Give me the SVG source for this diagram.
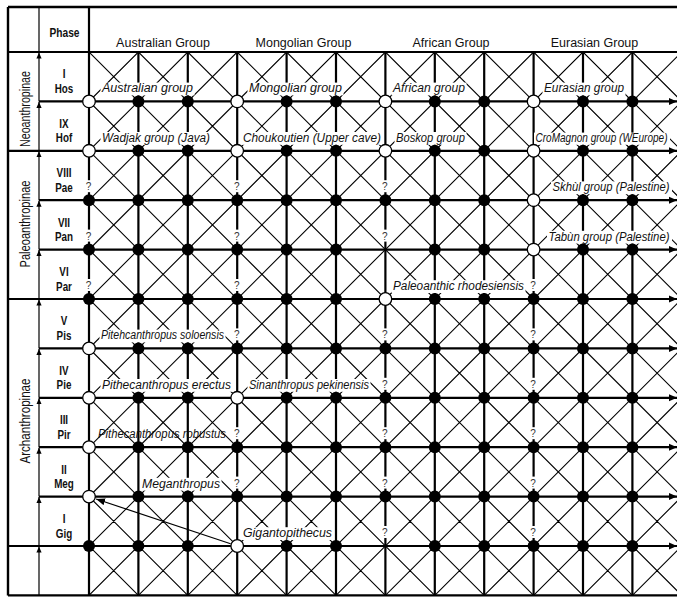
<svg xmlns="http://www.w3.org/2000/svg" width="677" height="597" viewBox="0 0 677 597">
<defs>
<style>
.thk{stroke:#000;stroke-width:2.2;fill:none}
.frm{stroke:#000;stroke-width:2.4;fill:none}
.thn{stroke:#000;stroke-width:1.2;fill:none}
.dg{stroke:#000;stroke-width:1.1;fill:none}
.f{fill:#000}
.o{fill:#fff;stroke:#000;stroke-width:1.3}
.bg{fill:#fff}
.lab{font-family:"Liberation Sans",Arial,sans-serif;font-style:italic;font-size:12px;fill:#111}
.q text{font-family:"Liberation Sans",Arial,sans-serif;font-size:10px;fill:#333;text-anchor:middle}
.hd{font-family:"Liberation Sans",Arial,sans-serif;font-size:12.5px;fill:#111;text-anchor:middle}
.ph{font-family:"Liberation Sans",Arial,sans-serif;font-weight:bold;font-size:12px;fill:#111;text-anchor:middle}
.grp{font-family:"Liberation Sans",Arial,sans-serif;font-size:14px;fill:#111;text-anchor:middle}
</style>
<marker id="ar" markerUnits="userSpaceOnUse" markerWidth="9" markerHeight="8" refX="8" refY="4" orient="auto"><path d="M0,0.5 L8,4 L0,7.5 z" fill="#000"/></marker>
<marker id="au" markerUnits="userSpaceOnUse" markerWidth="7" markerHeight="6" refX="6" refY="2.6" orient="auto"><path d="M0,0 L6,2.6 L0,5.2 z" fill="#000"/></marker>
<marker id="ah" markerUnits="userSpaceOnUse" markerWidth="10" markerHeight="8" refX="9" refY="3.5" orient="auto"><path d="M0,0 L9,3.5 L0,7 z" fill="#000"/></marker>
<clipPath id="gc"><rect x="89" y="52" width="588" height="543.4"/></clipPath>
</defs>
<rect width="677" height="597" fill="#fff"/>

<g id="connectors">
<path class="dg" clip-path="url(#gc)" d="M-454.4,52l543.4,543.4M-405,52l543.4,543.4M-355.6,52l543.4,543.4M-306.2,52l543.4,543.4M-256.8,52l543.4,543.4M-207.4,52l543.4,543.4M-158,52l543.4,543.4M-108.6,52l543.4,543.4M-59.2,52l543.4,543.4M-9.8,52l543.4,543.4M39.6,52l543.4,543.4M89,52l543.4,543.4M138.4,52l543.4,543.4M187.8,52l543.4,543.4M237.2,52l543.4,543.4M286.6,52l543.4,543.4M336,52l543.4,543.4M385.4,52l543.4,543.4M434.8,52l543.4,543.4M484.2,52l543.4,543.4M533.6,52l543.4,543.4M583,52l543.4,543.4M632.4,52l543.4,543.4M681.8,52l543.4,543.4
M89,52l-543.4,543.4M138.4,52l-543.4,543.4M187.8,52l-543.4,543.4M237.2,52l-543.4,543.4M286.6,52l-543.4,543.4M336,52l-543.4,543.4M385.4,52l-543.4,543.4M434.8,52l-543.4,543.4M484.2,52l-543.4,543.4M533.6,52l-543.4,543.4M583,52l-543.4,543.4M632.4,52l-543.4,543.4M681.8,52l-543.4,543.4M731.2,52l-543.4,543.4M780.6,52l-543.4,543.4M830,52l-543.4,543.4M879.4,52l-543.4,543.4M928.8,52l-543.4,543.4M978.2,52l-543.4,543.4M1027.6,52l-543.4,543.4M1077,52l-543.4,543.4M1126.4,52l-543.4,543.4M1175.8,52l-543.4,543.4M1225.2,52l-543.4,543.4"/>
<path class="thk" d="M138.4,52V595.4M187.8,52V595.4M237.2,52V595.4M286.6,52V595.4M336,52V595.4M385.4,52V595.4M434.8,52V595.4M484.2,52V595.4M533.6,52V595.4M583,52V595.4M632.4,52V595.4M89,7V595.4"/>
<path class="thk" d="M8,52H677"/>
<g class="thk" marker-end="url(#ar)">
<path d="M39,101.4H677"/><path d="M8,150.8H677"/><path d="M39,200.2H677"/><path d="M39,249.6H677"/><path d="M8,299H677"/><path d="M39,348.4H677"/><path d="M39,397.8H677"/><path d="M39,447.2H677"/><path d="M39,496.6H677"/><path d="M8,546H677"/>
</g>
<path class="thn" d="M39,7V52"/>
<g class="thn" marker-end="url(#au)">
<path d="M39,101.4V52.5"/><path d="M39,150.8V101.9"/><path d="M39,200.2V151.3"/><path d="M39,249.6V200.7"/><path d="M39,299V250.1"/><path d="M39,348.4V299.5"/><path d="M39,397.8V348.9"/><path d="M39,447.2V398.3"/><path d="M39,496.6V447.7"/><path d="M39,546V497.1"/><path d="M39,595.4V546.5"/>
</g>
<path class="frm" d="M8,7H677M8,7V595.4M8,595.4H677"/>
<path id="e-gig-meg" class="thn" d="M230.6,543.8L96.1,499" marker-end="url(#ah)"/>
</g>

<g id="header">
<text class="ph" transform="translate(64.5,0) scale(0.85,1)" y="37">Phase</text>
<text class="hd" x="163" y="47">Australian Group</text>
<text class="hd" x="303.5" y="47">Mongolian Group</text>
<text class="hd" x="451" y="47">African Group</text>
<text class="hd" x="594.5" y="47">Eurasian Group</text>
</g>

<g id="subfamilies">
<text class="grp" transform="translate(30,109) rotate(-90)" textLength="76" lengthAdjust="spacingAndGlyphs">Neoanthropinae</text>
<text class="grp" transform="translate(30,224) rotate(-90)" textLength="87" lengthAdjust="spacingAndGlyphs">Paleoanthropinae</text>
<text class="grp" transform="translate(30,421) rotate(-90)" textLength="85" lengthAdjust="spacingAndGlyphs">Archanthropinae</text>
</g>

<g id="phases" class="ph" transform="translate(64,0) scale(0.82,1)">
<text y="78.5">I</text><text y="93">Hos</text>
<text y="127.9">IX</text><text y="142.4">Hof</text>
<text y="177.3">VIII</text><text y="191.8">Pae</text>
<text y="226.7">VII</text><text y="241.2">Pan</text>
<text y="276.1">VI</text><text y="290.6">Par</text>
<text y="325.5">V</text><text y="340">Pis</text>
<text y="374.9">IV</text><text y="389.4">Pie</text>
<text y="424.3">III</text><text y="438.8">Pir</text>
<text y="473.7">II</text><text y="488.2">Meg</text>
<text y="523.1">I</text><text y="537.6">Gig</text>
</g>

<g id="labels">
<g id="l-australian"><rect class="bg" x="100.5" y="82.6" width="94" height="12.8"/><text class="lab" x="102" y="92.4" textLength="91" lengthAdjust="spacingAndGlyphs">Australian group</text></g>
<g id="l-mongolian"><rect class="bg" x="247.5" y="82.6" width="96" height="12.8"/><text class="lab" x="249" y="92.4" textLength="93" lengthAdjust="spacingAndGlyphs">Mongolian group</text></g>
<g id="l-african"><rect class="bg" x="391.5" y="82.6" width="75" height="12.8"/><text class="lab" x="393" y="92.4" textLength="72" lengthAdjust="spacingAndGlyphs">African group</text></g>
<g id="l-eurasian"><rect class="bg" x="542.5" y="82.6" width="83" height="12.8"/><text class="lab" x="544" y="92.4" textLength="80" lengthAdjust="spacingAndGlyphs">Eurasian group</text></g>
<g id="l-wadjak"><rect class="bg" x="100.5" y="132" width="111" height="12.8"/><text class="lab" x="102" y="141.8" textLength="108" lengthAdjust="spacingAndGlyphs">Wadjak group (Java)</text></g>
<g id="l-choukoutien"><rect class="bg" x="241.5" y="132" width="141" height="12.8"/><text class="lab" x="243" y="141.8" textLength="138" lengthAdjust="spacingAndGlyphs">Choukoutien (Upper cave)</text></g>
<g id="l-boskop"><rect class="bg" x="394.5" y="132" width="72" height="12.8"/><text class="lab" x="396" y="141.8" textLength="69" lengthAdjust="spacingAndGlyphs">Boskop group</text></g>
<g id="l-cromagnon"><rect class="bg" x="534" y="132.6" width="136" height="12.2"/><text class="lab" x="535.5" y="141.8" font-size="10.8" textLength="132" lengthAdjust="spacingAndGlyphs">CroMagnon group (WEurope)</text></g>
<g id="l-skhul"><rect class="bg" x="551" y="181.4" width="121" height="12.8"/><text class="lab" x="552.5" y="191.2" textLength="117" lengthAdjust="spacingAndGlyphs">Skhùl group (Palestine)</text></g>
<g id="l-tabun"><rect class="bg" x="547" y="230.8" width="125" height="12.8"/><text class="lab" x="548.5" y="240.6" textLength="121" lengthAdjust="spacingAndGlyphs">Tabùn group (Palestine)</text></g>
<g id="l-rhodesiensis"><rect class="bg" x="391.5" y="280.2" width="134" height="12.8"/><text class="lab" x="393" y="290" textLength="131" lengthAdjust="spacingAndGlyphs">Paleoanthic rhodesiensis</text></g>
<g id="l-soloensis"><rect class="bg" x="99.5" y="329.6" width="126" height="12.8"/><text class="lab" x="101" y="339.4" textLength="123" lengthAdjust="spacingAndGlyphs">Pitehcanthropus soloensis</text></g>
<g id="l-erectus"><rect class="bg" x="100.5" y="379" width="132" height="12.8"/><text class="lab" x="102" y="388.8" textLength="129" lengthAdjust="spacingAndGlyphs">Pithecanthropus erectus</text></g>
<g id="l-pekinensis"><rect class="bg" x="247.5" y="379" width="123" height="12.8"/><text class="lab" x="249" y="388.8" textLength="120" lengthAdjust="spacingAndGlyphs">Sinanthropus pekinensis</text></g>
<g id="l-robustus"><text class="lab" x="98" y="438.2" textLength="128" lengthAdjust="spacingAndGlyphs">Pithecanthropus robustus</text></g>
<g id="l-meganthropus"><rect class="bg" x="140.5" y="477.8" width="81" height="12.8"/><text class="lab" x="142" y="487.6" textLength="78" lengthAdjust="spacingAndGlyphs">Meganthropus</text></g>
<g id="l-gigantopithecus"><rect class="bg" x="241.5" y="527.2" width="92" height="12.8"/><text class="lab" x="243" y="537" textLength="89" lengthAdjust="spacingAndGlyphs">Gigantopithecus</text></g>
</g>

<g id="unknowns" class="q">
<rect class="bg" x="85" y="180.2" width="8" height="12"/><text x="88.5" y="190.2">?</text>
<rect class="bg" x="85" y="229.6" width="8" height="12"/><text x="88.5" y="239.6">?</text>
<rect class="bg" x="85" y="279" width="8" height="12"/><text x="88.5" y="289">?</text>
<rect class="bg" x="233.2" y="180.2" width="8" height="12"/><text x="236.7" y="190.2">?</text>
<rect class="bg" x="233.2" y="229.6" width="8" height="12"/><text x="236.7" y="239.6">?</text>
<rect class="bg" x="233.2" y="279" width="8" height="12"/><text x="236.7" y="289">?</text>
<rect class="bg" x="233.2" y="328.4" width="8" height="12"/><text x="236.7" y="338.4">?</text>
<rect class="bg" x="233.2" y="427.2" width="8" height="12"/><text x="236.7" y="437.2">?</text>
<rect class="bg" x="233.2" y="476.6" width="8" height="12"/><text x="236.7" y="486.6">?</text>
<rect class="bg" x="381.4" y="180.2" width="8" height="12"/><text x="384.9" y="190.2">?</text>
<rect class="bg" x="381.4" y="229.6" width="8" height="12"/><text x="384.9" y="239.6">?</text>
<rect class="bg" x="381.4" y="328.4" width="8" height="12"/><text x="384.9" y="338.4">?</text>
<rect class="bg" x="381.4" y="377.8" width="8" height="12"/><text x="384.9" y="387.8">?</text>
<rect class="bg" x="381.4" y="427.2" width="8" height="12"/><text x="384.9" y="437.2">?</text>
<rect class="bg" x="381.4" y="476.6" width="8" height="12"/><text x="384.9" y="486.6">?</text>
<rect class="bg" x="381.4" y="526" width="8" height="12"/><text x="384.9" y="536">?</text>
<rect class="bg" x="529.6" y="279" width="8" height="12"/><text x="533.1" y="289">?</text>
<rect class="bg" x="529.6" y="328.4" width="8" height="12"/><text x="533.1" y="338.4">?</text>
<rect class="bg" x="529.6" y="377.8" width="8" height="12"/><text x="533.1" y="387.8">?</text>
<rect class="bg" x="529.6" y="427.2" width="8" height="12"/><text x="533.1" y="437.2">?</text>
<rect class="bg" x="529.6" y="476.6" width="8" height="12"/><text x="533.1" y="486.6">?</text>
<rect class="bg" x="529.6" y="526" width="8" height="12"/><text x="533.1" y="536">?</text>
</g>

<g id="nodes">
<g id="n0-1"><circle class="o" cx="89" cy="101.4" r="6.3"/></g>
<g id="n0-2"><circle class="o" cx="89" cy="150.8" r="6.3"/></g>
<g id="n0-3"><circle class="f" cx="89" cy="200.2" r="6"/></g>
<g id="n0-4"><circle class="f" cx="89" cy="249.6" r="6"/></g>
<g id="n0-5"><circle class="f" cx="89" cy="299" r="6"/></g>
<g id="n0-6"><circle class="o" cx="89" cy="348.4" r="6.3"/></g>
<g id="n0-7"><circle class="o" cx="89" cy="397.8" r="6.3"/></g>
<g id="n0-8"><circle class="o" cx="89" cy="447.2" r="6.3"/></g>
<g id="n0-9"><circle class="o" cx="89" cy="496.6" r="6.3"/></g>
<g id="n0-10"><circle class="f" cx="89" cy="546" r="6"/></g>

<g id="n1-1"><circle class="f" cx="138.4" cy="101.4" r="6"/></g>
<g id="n1-2"><circle class="f" cx="138.4" cy="150.8" r="6"/></g>
<g id="n1-3"><circle class="f" cx="138.4" cy="200.2" r="6"/></g>
<g id="n1-4"><circle class="f" cx="138.4" cy="249.6" r="6"/></g>
<g id="n1-5"><circle class="f" cx="138.4" cy="299" r="6"/></g>
<g id="n1-6"><circle class="f" cx="138.4" cy="348.4" r="6"/></g>
<g id="n1-7"><circle class="f" cx="138.4" cy="397.8" r="6"/></g>
<g id="n1-8"><circle class="f" cx="138.4" cy="447.2" r="6"/></g>
<g id="n1-9"><circle class="f" cx="138.4" cy="496.6" r="6"/></g>
<g id="n1-10"><circle class="f" cx="138.4" cy="546" r="6"/></g>

<g id="n2-1"><circle class="f" cx="187.8" cy="101.4" r="6"/></g>
<g id="n2-2"><circle class="f" cx="187.8" cy="150.8" r="6"/></g>
<g id="n2-3"><circle class="f" cx="187.8" cy="200.2" r="6"/></g>
<g id="n2-4"><circle class="f" cx="187.8" cy="249.6" r="6"/></g>
<g id="n2-5"><circle class="f" cx="187.8" cy="299" r="6"/></g>
<g id="n2-6"><circle class="f" cx="187.8" cy="348.4" r="6"/></g>
<g id="n2-7"><circle class="f" cx="187.8" cy="397.8" r="6"/></g>
<g id="n2-8"><circle class="f" cx="187.8" cy="447.2" r="6"/></g>
<g id="n2-9"><circle class="f" cx="187.8" cy="496.6" r="6"/></g>
<g id="n2-10"><circle class="f" cx="187.8" cy="546" r="6"/></g>

<g id="n3-1"><circle class="o" cx="237.2" cy="101.4" r="6.3"/></g>
<g id="n3-2"><circle class="o" cx="237.2" cy="150.8" r="6.3"/></g>
<g id="n3-3"><circle class="f" cx="237.2" cy="200.2" r="6"/></g>
<g id="n3-4"><circle class="f" cx="237.2" cy="249.6" r="6"/></g>
<g id="n3-5"><circle class="f" cx="237.2" cy="299" r="6"/></g>
<g id="n3-6"><circle class="f" cx="237.2" cy="348.4" r="6"/></g>
<g id="n3-7"><circle class="o" cx="237.2" cy="397.8" r="6.3"/></g>
<g id="n3-8"><circle class="f" cx="237.2" cy="447.2" r="6"/></g>
<g id="n3-9"><circle class="f" cx="237.2" cy="496.6" r="6"/></g>
<g id="n3-10"><circle class="o" cx="237.2" cy="546" r="6.3"/></g>

<g id="n4-1"><circle class="f" cx="286.6" cy="101.4" r="6"/></g>
<g id="n4-2"><circle class="f" cx="286.6" cy="150.8" r="6"/></g>
<g id="n4-3"><circle class="f" cx="286.6" cy="200.2" r="6"/></g>
<g id="n4-4"><circle class="f" cx="286.6" cy="249.6" r="6"/></g>
<g id="n4-5"><circle class="f" cx="286.6" cy="299" r="6"/></g>
<g id="n4-6"><circle class="f" cx="286.6" cy="348.4" r="6"/></g>
<g id="n4-7"><circle class="f" cx="286.6" cy="397.8" r="6"/></g>
<g id="n4-8"><circle class="f" cx="286.6" cy="447.2" r="6"/></g>
<g id="n4-9"><circle class="f" cx="286.6" cy="496.6" r="6"/></g>
<g id="n4-10"><circle class="f" cx="286.6" cy="546" r="6"/></g>

<g id="n5-1"><circle class="f" cx="336" cy="101.4" r="6"/></g>
<g id="n5-2"><circle class="f" cx="336" cy="150.8" r="6"/></g>
<g id="n5-3"><circle class="f" cx="336" cy="200.2" r="6"/></g>
<g id="n5-4"><circle class="f" cx="336" cy="249.6" r="6"/></g>
<g id="n5-5"><circle class="f" cx="336" cy="299" r="6"/></g>
<g id="n5-6"><circle class="f" cx="336" cy="348.4" r="6"/></g>
<g id="n5-7"><circle class="f" cx="336" cy="397.8" r="6"/></g>
<g id="n5-8"><circle class="f" cx="336" cy="447.2" r="6"/></g>
<g id="n5-9"><circle class="f" cx="336" cy="496.6" r="6"/></g>
<g id="n5-10"><circle class="f" cx="336" cy="546" r="6"/></g>

<g id="n6-1"><circle class="o" cx="385.4" cy="101.4" r="6.3"/></g>
<g id="n6-2"><circle class="o" cx="385.4" cy="150.8" r="6.3"/></g>
<g id="n6-3"><circle class="f" cx="385.4" cy="200.2" r="6"/></g>
<g id="n6-5"><circle class="o" cx="385.4" cy="299" r="6.3"/></g>
<g id="n6-6"><circle class="f" cx="385.4" cy="348.4" r="6"/></g>
<g id="n6-7"><circle class="f" cx="385.4" cy="397.8" r="6"/></g>
<g id="n6-8"><circle class="f" cx="385.4" cy="447.2" r="6"/></g>
<g id="n6-9"><circle class="f" cx="385.4" cy="496.6" r="6"/></g>

<g id="n7-1"><circle class="f" cx="434.8" cy="101.4" r="6"/></g>
<g id="n7-2"><circle class="f" cx="434.8" cy="150.8" r="6"/></g>
<g id="n7-3"><circle class="f" cx="434.8" cy="200.2" r="6"/></g>
<g id="n7-4"><circle class="f" cx="434.8" cy="249.6" r="6"/></g>
<g id="n7-5"><circle class="f" cx="434.8" cy="299" r="6"/></g>
<g id="n7-6"><circle class="f" cx="434.8" cy="348.4" r="6"/></g>
<g id="n7-7"><circle class="f" cx="434.8" cy="397.8" r="6"/></g>
<g id="n7-8"><circle class="f" cx="434.8" cy="447.2" r="6"/></g>
<g id="n7-9"><circle class="f" cx="434.8" cy="496.6" r="6"/></g>
<g id="n7-10"><circle class="f" cx="434.8" cy="546" r="6"/></g>

<g id="n8-1"><circle class="f" cx="484.2" cy="101.4" r="6"/></g>
<g id="n8-2"><circle class="f" cx="484.2" cy="150.8" r="6"/></g>
<g id="n8-3"><circle class="f" cx="484.2" cy="200.2" r="6"/></g>
<g id="n8-4"><circle class="f" cx="484.2" cy="249.6" r="6"/></g>
<g id="n8-5"><circle class="f" cx="484.2" cy="299" r="6"/></g>
<g id="n8-6"><circle class="f" cx="484.2" cy="348.4" r="6"/></g>
<g id="n8-7"><circle class="f" cx="484.2" cy="397.8" r="6"/></g>
<g id="n8-8"><circle class="f" cx="484.2" cy="447.2" r="6"/></g>
<g id="n8-9"><circle class="f" cx="484.2" cy="496.6" r="6"/></g>
<g id="n8-10"><circle class="f" cx="484.2" cy="546" r="6"/></g>

<g id="n9-1"><circle class="o" cx="533.6" cy="101.4" r="6.3"/></g>
<g id="n9-2"><circle class="o" cx="533.6" cy="150.8" r="6.3"/></g>
<g id="n9-3"><circle class="o" cx="533.6" cy="200.2" r="6.3"/></g>
<g id="n9-4"><circle class="o" cx="533.6" cy="249.6" r="6.3"/></g>
<g id="n9-5"><circle class="f" cx="533.6" cy="299" r="6"/></g>
<g id="n9-6"><circle class="f" cx="533.6" cy="348.4" r="6"/></g>
<g id="n9-7"><circle class="f" cx="533.6" cy="397.8" r="6"/></g>
<g id="n9-8"><circle class="f" cx="533.6" cy="447.2" r="6"/></g>
<g id="n9-9"><circle class="f" cx="533.6" cy="496.6" r="6"/></g>
<g id="n9-10"><circle class="f" cx="533.6" cy="546" r="6"/></g>

<g id="n10-1"><circle class="f" cx="583" cy="101.4" r="6"/></g>
<g id="n10-2"><circle class="f" cx="583" cy="150.8" r="6"/></g>
<g id="n10-3"><circle class="f" cx="583" cy="200.2" r="6"/></g>
<g id="n10-4"><circle class="f" cx="583" cy="249.6" r="6"/></g>
<g id="n10-5"><circle class="f" cx="583" cy="299" r="6"/></g>
<g id="n10-6"><circle class="f" cx="583" cy="348.4" r="6"/></g>
<g id="n10-7"><circle class="f" cx="583" cy="397.8" r="6"/></g>
<g id="n10-8"><circle class="f" cx="583" cy="447.2" r="6"/></g>
<g id="n10-9"><circle class="f" cx="583" cy="496.6" r="6"/></g>
<g id="n10-10"><circle class="f" cx="583" cy="546" r="6"/></g>

<g id="n11-1"><circle class="f" cx="632.4" cy="101.4" r="6"/></g>
<g id="n11-2"><circle class="f" cx="632.4" cy="150.8" r="6"/></g>
<g id="n11-3"><circle class="f" cx="632.4" cy="200.2" r="6"/></g>
<g id="n11-4"><circle class="f" cx="632.4" cy="249.6" r="6"/></g>
<g id="n11-5"><circle class="f" cx="632.4" cy="299" r="6"/></g>
<g id="n11-6"><circle class="f" cx="632.4" cy="348.4" r="6"/></g>
<g id="n11-7"><circle class="f" cx="632.4" cy="397.8" r="6"/></g>
<g id="n11-8"><circle class="f" cx="632.4" cy="447.2" r="6"/></g>
<g id="n11-9"><circle class="f" cx="632.4" cy="496.6" r="6"/></g>
<g id="n11-10"><circle class="f" cx="632.4" cy="546" r="6"/></g>
</g>
</svg>
